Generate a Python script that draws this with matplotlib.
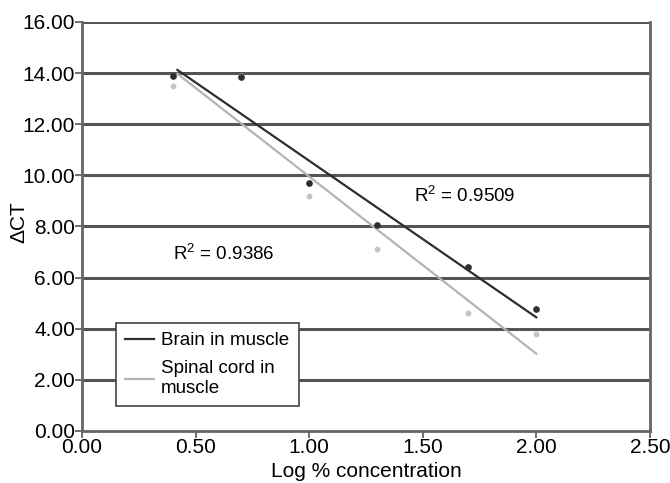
import numpy as np
import matplotlib
matplotlib.use("Agg")
import matplotlib.pyplot as plt

# data
log_conc = [0.4, 0.7, 1.0, 1.3, 1.7, 2.0]
brain_ct = [13.89, 13.85, 9.70, 8.06, 6.42, 4.77]
spinal_ct = [13.5, 13.9, 9.2, 7.1, 4.6, 3.8]
r2_labels = ["R$^2$ = 0.9509", "R$^2$ = 0.9386"]
yticks = [0, 2, 4, 6, 8, 10, 12, 14, 16]
xticks = [0, 0.5, 1.0, 1.5, 2.0, 2.5]

plt.rcParams['font.family'] = ['Liberation Sans', 'DejaVu Sans']
plt.rcParams['mathtext.fontset'] = 'custom'
plt.rcParams['mathtext.rm'] = 'Liberation Sans'

fig = plt.figure(figsize=(6.7, 4.83), dpi=100)
ax = fig.add_axes([0.1224, 0.1077, 0.8476, 0.8468])

# grid lines
for yv in yticks[1:]:
    ax.axhline(yv, color='#555555', lw=2.2, zorder=1)

dark = '#2e2e2e'
light = '#b4b4b4'

# trend lines
xs = np.array([min(log_conc) + 0.02, max(log_conc)])
pb = np.polyfit(log_conc, brain_ct, 1)
ps = np.polyfit(log_conc, spinal_ct, 1)
ax.plot(xs, np.polyval(ps, xs), color=light, lw=1.6, zorder=3, label='Spinal cord in\nmuscle')
ax.plot(xs, np.polyval(pb, xs), color=dark, lw=1.6, zorder=4, label='Brain in muscle')

# points
ax.plot(log_conc, spinal_ct, 'o', color='#c4c4c4', ms=3.2, zorder=3)
ax.plot(log_conc, brain_ct, 'o', color=dark, ms=3.8, zorder=5)

ax.text(1.46, 9.2, r2_labels[0], fontsize=13.5, va='center')
ax.text(0.40, 6.95, r2_labels[1], fontsize=13.5, va='center')

ax.set_xlim(0, 2.5)
ax.set_ylim(0, 16)
ax.set_xticks(xticks)
ax.set_yticks(yticks)
ax.set_xticklabels(["%.2f" % v for v in xticks], fontsize=15)
ax.set_yticklabels(["%.2f" % v for v in yticks], fontsize=15)
ax.tick_params(length=5, width=1.2, color='#555555', pad=0)

for s in ['left', 'bottom', 'right']:
    ax.spines[s].set_color('#666666')
    ax.spines[s].set_linewidth(2)
ax.spines['top'].set_visible(False)

ax.set_xlabel("Log % concentration", fontsize=15, labelpad=4)
ax.set_ylabel("ΔCT", fontsize=15)
ax.yaxis.set_label_coords(-0.095, 0.51)

h, l = ax.get_legend_handles_labels()
leg = ax.legend(h[::-1], l[::-1], loc='lower left', bbox_to_anchor=(0.06, 0.06),
                fontsize=13.5, frameon=True, fancybox=False, borderaxespad=0,
                handlelength=1.5, handletextpad=0.4, labelspacing=0.6,
                borderpad=0.5)
leg.get_frame().set_edgecolor('#444444')
leg.get_frame().set_linewidth(1.2)
leg.get_frame().set_alpha(1)

fig.savefig("out.png", dpi=100)
